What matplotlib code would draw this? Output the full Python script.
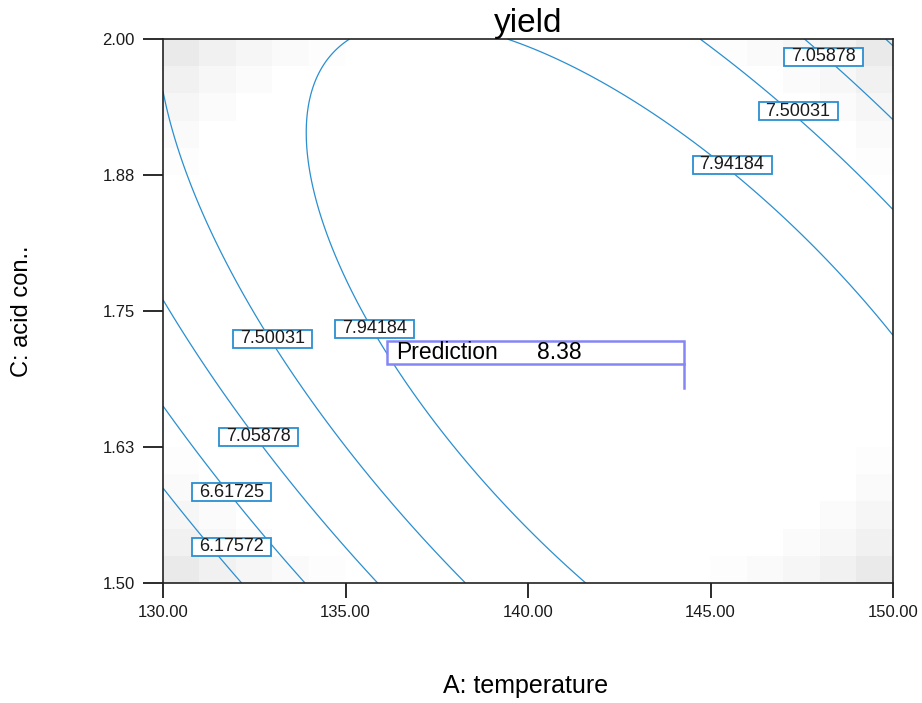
import numpy as np
import matplotlib
matplotlib.use("Agg")
import matplotlib.pyplot as plt
from matplotlib.patches import Rectangle

plt.rcParams["font.family"] = ["Liberation Sans", "DejaVu Sans"]

# quadratic model in coded units: b0, A, C, AC, A^2, C^2
coef = [8.31578, 0.42671, 0.08205, -0.90147, -0.87007, -0.48017]
temp_range = [130, 150]
acid_range = [1.5, 2.0]
levels = [6.17572, 6.61725, 7.05878, 7.50031, 7.94184]

# where the contour labels sit
label_vals = [6.17572, 6.61725, 7.05878, 7.50031, 7.94184, 7.94184, 7.50031, 7.05878]
label_x = [131.88, 131.88, 132.62, 133.01, 135.79, 145.59, 147.40, 148.10]
label_y = [1.5335, 1.5836, 1.6342, 1.7243, 1.7335, 1.8842, 1.9338, 1.9839]

pred_x, pred_y, pred_val = 144.27, 1.6792, 8.38

xticks = [130, 135, 140, 145, 150]
yticks = [1.5, 1.625, 1.75, 1.875, 2.0]
ytick_labels = ["1.50", "1.63", "1.75", "1.88", "2.00"]

line_col = "#2a8fd0"

fig = plt.figure(figsize=(9.22, 7.03), dpi=100)
ax = fig.add_axes([163 / 922, 1 - 583 / 703, 730 / 922, 544 / 703])

# grey shading toward the corners (standard error style)
n = 20
gx = np.linspace(-1, 1, n)
GA, GC = np.meshgrid(gx, gx)
r2 = GA ** 2 + GC ** 2
shade = 1 - 0.085 * np.clip((r2 - 1.2) / 0.8, 0, 1) ** 1.3
ax.imshow(shade, cmap="gray", vmin=0, vmax=1, interpolation="nearest",
          extent=[130, 150, 1.5, 2.0], origin="lower", aspect="auto", zorder=0)

xs = np.linspace(temp_range[0], temp_range[1], 400)
ys = np.linspace(acid_range[0], acid_range[1], 400)
X, Y = np.meshgrid(xs, ys)
A = (X - 140) / 10
C = (Y - 1.75) / 0.25
Z = coef[0] + coef[1] * A + coef[2] * C + coef[3] * A * C + coef[4] * A * A + coef[5] * C * C
ax.contour(X, Y, Z, levels=levels, colors=line_col, linewidths=0.9, zorder=2)

bw, bh = 79 / 36.5, 18 / 1088
for v, lx, ly in zip(label_vals, label_x, label_y):
    ax.add_patch(Rectangle((lx - bw / 2, ly - bh / 2), bw, bh, facecolor="white",
                           edgecolor=line_col, linewidth=1.3, zorder=3))
    ax.text(lx, ly, "%.5f" % v, ha="center", va="center", fontsize=13,
            color="#1a1a1a", zorder=4)

# prediction flag
pcol = "#8585f5"
px0, px1 = 136.14, pred_x
py0, py1 = 1.7013, 1.7224
ax.add_patch(Rectangle((px0, py0), px1 - px0, py1 - py0, facecolor="white",
                       edgecolor=pcol, linewidth=1.8, zorder=5))
ax.plot([pred_x, pred_x], [py0, pred_y], color=pcol, lw=1.8, zorder=5)
ax.text(136.38, (py0 + py1) / 2, "Prediction", ha="left", va="center",
        fontsize=16.5, color="black", zorder=6)
ax.text(140.25, (py0 + py1) / 2, "%.2f" % pred_val, ha="left", va="center",
        fontsize=16.5, color="black", zorder=6)

ax.set_xlim(temp_range)
ax.set_ylim(acid_range)
ax.set_xticks(xticks)
ax.set_xticklabels(["%.2f" % t for t in xticks])
ax.set_yticks(yticks)
ax.set_yticklabels(ytick_labels)
ax.tick_params(axis="x", length=11, width=1.3, pad=5, labelsize=12, colors="#1a1a1a")
ax.tick_params(axis="y", length=14.5, width=1.3, pad=6, labelsize=12, colors="#1a1a1a")
for s in ax.spines.values():
    s.set_linewidth(1.2)
    s.set_color("#222222")

ax.set_title("yield", fontsize=24, pad=1)
fig.text(526 / 922, 1 - 686 / 703, "A: temperature", ha="center", va="center", fontsize=18)
fig.text(22 / 922, 1 - 311 / 703, "C: acid con..", ha="center", va="center",
         rotation=90, fontsize=17)

fig.savefig("out.png")
